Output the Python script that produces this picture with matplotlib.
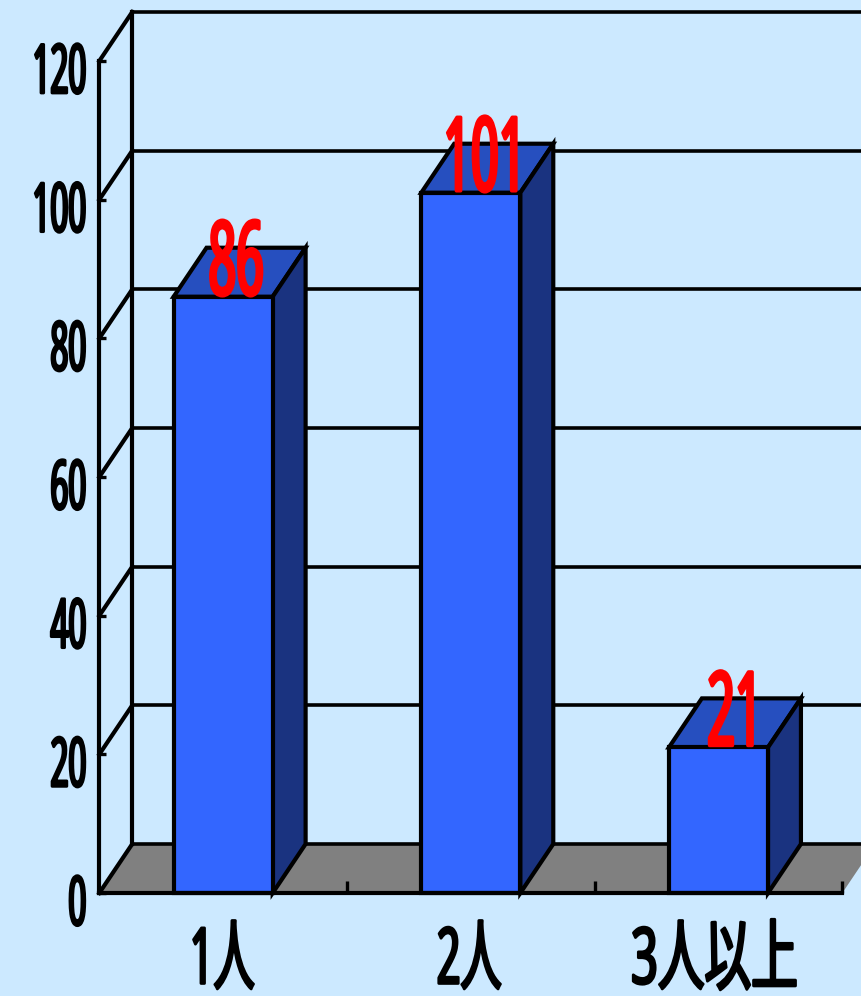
import matplotlib
matplotlib.use("Agg")
import matplotlib.pyplot as plt
from matplotlib.patches import Polygon
from matplotlib.patheffects import AbstractPathEffect
from matplotlib.transforms import Affine2D

# latin digits first, kanji falls through to the CJK family
plt.rcParams['font.family'] = ['Noto Sans', 'Noto Sans CJK JP', 'DejaVu Sans']

categories = ['1人', '2人', '3人以上']
values = [86, 101, 21]
y_ticks = [0, 20, 40, 60, 80, 100, 120]

BG = '#CCE9FF'
FRONT = '#3366FF'
TOP = '#264FBF'
SIDE = '#1A3380'
FLOOR = '#808080'
LW = 3.0
BAR_W = 0.4
# depth of the box, in data units
DX = 0.133
DY = 7.07
RIGHT = 2.5 + DX
# sideways nudge of the value labels, pixels
VALUE_NUDGE = [0, 4.5, 8]


class Narrow(AbstractPathEffect):
    """Squeezes text horizontally around its ink centre or right edge, then thickens it."""

    def __init__(self, sx, anchor='center', dx=0, dy=0, stroke=2.0):
        super().__init__()
        self.sx = sx
        self.anchor = anchor
        self.dx = dx
        self.dy = dy
        self.stroke = stroke

    def draw_path(self, renderer, gc, tpath, affine, rgbFace=None):
        box = tpath.get_extents()
        cx = {'center': (box.x0 + box.x1) / 2, 'right': box.x1}[self.anchor]
        squeeze = Affine2D().translate(-cx, 0).scale(self.sx, 1).translate(cx, 0)
        shift = Affine2D().translate(self.dx, self.dy)
        gc0 = renderer.new_gc()
        gc0.copy_properties(gc)
        gc0.set_foreground(rgbFace)
        gc0.set_linewidth(self.stroke)
        gc0.set_joinstyle('round')
        renderer.draw_path(gc0, tpath, squeeze + affine + shift, rgbFace)
        gc0.restore()


fig = plt.figure(figsize=(8.61, 9.96), dpi=100, facecolor=BG)
ax = fig.add_axes([99.3 / 861, (996 - 893) / 996, 743 / 861, 832 / 996])
ax.set_xlim(-0.5, 2.5)
ax.set_ylim(0, 120)
ax.patch.set_alpha(0)

# floor
ax.add_patch(Polygon([(-0.5, 0), (2.5, 0), (RIGHT, DY), (-0.5 + DX, DY)],
                     closed=True, fc=FLOOR, ec='none', zorder=1, clip_on=False))

# back wall grid and the slanted lines joining it to the axis
for t in y_ticks:
    ax.plot([-0.5 + DX, RIGHT], [t + DY, t + DY], color='k', lw=2.6, zorder=2, clip_on=False)
    ax.plot([-0.5, -0.5 + DX], [t, t + DY], color='k', lw=LW, zorder=2, clip_on=False)
ax.plot([-0.5 + DX, -0.5 + DX], [DY, 120 + DY], color='k', lw=LW, zorder=2, clip_on=False)

# bars
for i, v in enumerate(values):
    x0 = i - BAR_W / 2
    x1 = i + BAR_W / 2
    ax.add_patch(Polygon([(x0, v), (x1, v), (x1 + DX, v + DY), (x0 + DX, v + DY)],
                         fc=TOP, ec='k', lw=LW, joinstyle='miter', zorder=3, clip_on=False))
    ax.add_patch(Polygon([(x1, 0), (x1 + DX, DY), (x1 + DX, v + DY), (x1, v)],
                         fc=SIDE, ec='k', lw=LW, joinstyle='miter', zorder=3, clip_on=False))
    ax.add_patch(Polygon([(x0, 0), (x1, 0), (x1, v), (x0, v)],
                         fc=FRONT, ec='k', lw=LW, joinstyle='miter', zorder=4, clip_on=False))
    ax.annotate(str(v), (i, v), xytext=(13, 2), textcoords='offset pixels',
                ha='center', va='baseline', color='#FF0000', fontsize=74,
                zorder=6, annotation_clip=False,
                path_effects=[Narrow(0.47, dx=VALUE_NUDGE[i], stroke=2.6)])

# axes
for side in ['top', 'right']:
    ax.spines[side].set_visible(False)
for side in ['left', 'bottom']:
    ax.spines[side].set_linewidth(LW)
    ax.spines[side].set_zorder(5)

ax.set_yticks(y_ticks)
ax.set_yticklabels([str(t) for t in y_ticks], fontsize=49)
ax.tick_params(axis='y', direction='in', length=5, width=2.4, pad=8)
for lab in ax.get_yticklabels():
    lab.set_path_effects([Narrow(0.46, 'right', dy=-6, stroke=2.0)])
    lab.set_verticalalignment('center_baseline')

ax.set_xticks([0.5, 1.5, 2.5])
ax.set_xticklabels([])
ax.tick_params(axis='x', which='major', direction='in', length=8.5, width=2.4)
ax.set_xticks([0, 1, 2], minor=True)
ax.set_xticklabels(categories, minor=True, fontsize=56)
ax.tick_params(axis='x', which='minor', length=0, pad=14)
label_fx = [Narrow(0.53, dx=-2, dy=-11, stroke=2.0),
            Narrow(0.53, dx=-2, dy=-11, stroke=2.0),
            Narrow(0.6, dx=-4, dy=-11, stroke=2.0)]
for lab, fx in zip(ax.get_xticklabels(minor=True), label_fx):
    lab.set_path_effects([fx])

fig.savefig('out.png', dpi=100, facecolor=BG)
